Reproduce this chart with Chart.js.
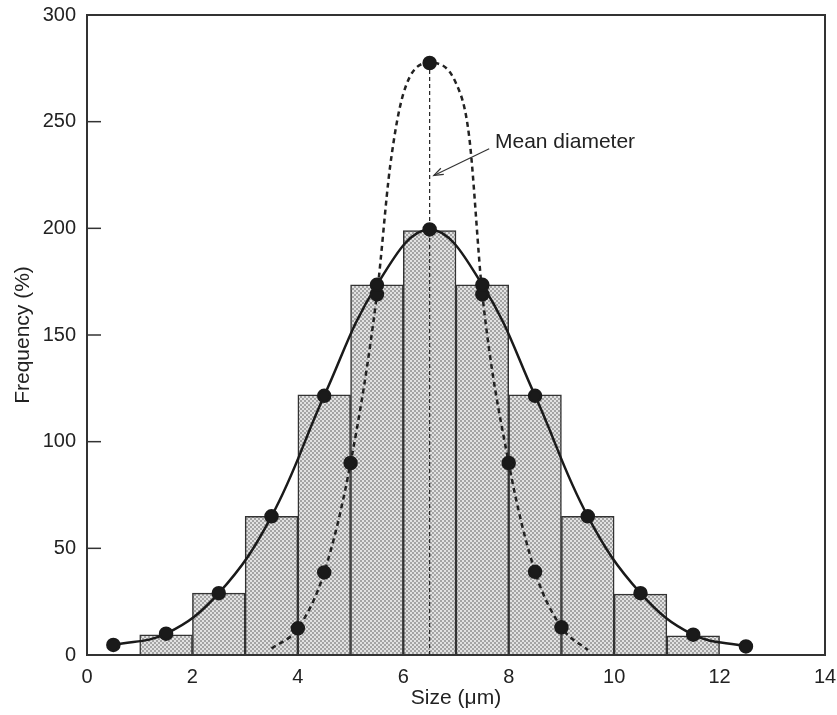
<!DOCTYPE html>
<html>
<head>
<meta charset="utf-8">
<script src="https://cdn.jsdelivr.net/npm/chart.js@4/dist/chart.umd.min.js"></script>
<style>
html,body{margin:0;padding:0;background:#fff;}
#wrap{width:837px;height:715px;position:relative;}
</style>
</head>
<body>
<div id="wrap"><canvas id="c" width="837" height="715"></canvas></div>
<script>
// ---- data ----
const binCenters = [1.5, 2.5, 3.5, 4.5, 5.5, 6.5, 7.5, 8.5, 9.5, 10.5, 11.5];
const binCounts  = [9.5, 29, 65, 122, 173.5, 199, 173.5, 122, 65, 28.5, 9];

const wideX = [0.5, 1.5, 2.5, 3.5, 4.5, 5.5, 6.5, 7.5, 8.5, 9.5, 10.5, 11.5, 12.5];
const wideY = [4.7, 10, 29, 65, 121.5, 173.5, 199.5, 173.5, 121.5, 65, 29, 9.5, 4];

// narrow distribution: marked points plus unmarked points
const narrowX = [3.5, 4, 4.5, 5, 5.5, 5.75, 6.0, 6.5, 7.0, 7.25, 7.5, 8, 8.5, 9, 9.5];
const narrowY = [3, 12.5, 38.7, 90, 169, 229, 263, 277.5, 268, 243, 169, 90, 39, 13, 2.3];
const narrowMarked = [false, true, true, true, true, false, false, true, false, false, true, true, true, true, false];

const meanX = [6.5, 6.5];
const meanY = [0, 277.5];

const xTicks = [0, 2, 4, 6, 8, 10, 12, 14];
const yTicks = [0, 50, 100, 150, 200, 250, 300];

const annotationText = "Mean diameter";

const FONT = '"Liberation Sans", Arial, sans-serif';

// ---- pattern fill for the histogram ----
function stipple() {
  const p = document.createElement('canvas');
  p.width = 4; p.height = 4;
  const g = p.getContext('2d');
  g.fillStyle = '#e2e2e2'; g.fillRect(0, 0, 4, 4);
  g.fillStyle = '#a4a4a4';
  g.fillRect(0, 0, 2, 2); g.fillRect(2, 2, 2, 2);
  return g.createPattern(p, 'repeat');
}
const ctx0 = document.getElementById('c').getContext('2d');

const pts = (xs, ys) => xs.map((x, i) => ({x: x, y: ys[i]}));

const frame = {
  id: 'frame',
  afterDraw(chart) {
    const {ctx, chartArea: a, scales} = chart;
    ctx.save();
    ctx.strokeStyle = '#333';
    ctx.lineWidth = 2;
    ctx.strokeRect(a.left, a.top, a.right - a.left, a.bottom - a.top);
    ctx.lineWidth = 1.5;
    yTicks.forEach(v => {
      const y = scales.y.getPixelForValue(v);
      ctx.beginPath();
      ctx.moveTo(a.left, y);
      ctx.lineTo(a.left + 14, y);
      ctx.stroke();
    });
    const tx = scales.x.getPixelForValue(7.74);
    const ty = scales.y.getPixelForValue(240.5);
    ctx.fillStyle = '#222';
    ctx.font = '21px ' + FONT;
    ctx.textBaseline = 'middle';
    ctx.textAlign = 'left';
    ctx.fillText(annotationText, tx, ty);
    const x1 = scales.x.getPixelForValue(7.63), y1 = scales.y.getPixelForValue(237.3);
    const x2 = scales.x.getPixelForValue(6.58), y2 = scales.y.getPixelForValue(224.8);
    ctx.strokeStyle = '#333';
    ctx.lineWidth = 1.2;
    ctx.beginPath(); ctx.moveTo(x1, y1); ctx.lineTo(x2, y2); ctx.stroke();
    const ang = Math.atan2(y2 - y1, x2 - x1);
    const L = 10, W = 0.35;
    ctx.beginPath();
    ctx.moveTo(x2 - L * Math.cos(ang - W), y2 - L * Math.sin(ang - W));
    ctx.lineTo(x2, y2);
    ctx.lineTo(x2 - L * Math.cos(ang + W), y2 - L * Math.sin(ang + W));
    ctx.stroke();
    ctx.restore();
  }
};

new Chart(ctx0, {
  data: {
    datasets: [
      {
        type: 'line',
        label: 'mean',
        data: pts(meanX, meanY),
        borderColor: '#222',
        borderWidth: 1.2,
        borderDash: [4, 3],
        pointRadius: 0,
        order: 3
      },
      {
        type: 'line',
        label: 'narrow',
        data: pts(narrowX, narrowY),
        borderColor: '#222',
        borderWidth: 2.5,
        borderDash: [5, 4],
        cubicInterpolationMode: 'monotone',
        pointRadius: narrowMarked.map(m => m ? 6 : 0),
        pointBackgroundColor: '#1a1a1a',
        pointBorderColor: '#1a1a1a',
        order: 2
      },
      {
        type: 'line',
        label: 'wide',
        data: pts(wideX, wideY),
        borderColor: '#1a1a1a',
        borderWidth: 2.5,
        tension: 0.4,
        pointRadius: 6,
        pointBackgroundColor: '#1a1a1a',
        pointBorderColor: '#1a1a1a',
        order: 1
      },
      {
        type: 'bar',
        label: 'hist',
        data: pts(binCenters, binCounts),
        backgroundColor: stipple(),
        borderColor: '#333',
        borderWidth: 1.5,
        barPercentage: 1,
        categoryPercentage: 1,
        order: 4
      }
    ]
  },
  options: {
    responsive: false,
    animation: false,
    layout: {padding: {top: 15, right: 12, left: 0, bottom: 0}},
    plugins: {legend: {display: false}, tooltip: {enabled: false}},
    scales: {
      x: {
        type: 'linear',
        offset: false,
        min: 0, max: 14,
        afterBuildTicks: s => { s.ticks = xTicks.map(v => ({value: v})); },
        afterFit: s => { s.height = 60; s.paddingLeft = 0; s.paddingRight = 0; },
        grid: {display: false, drawTicks: false, offset: false},
        border: {display: false},
        ticks: {color: '#222', padding: 10, font: {size: 20, family: FONT}},
        title: {display: true, text: 'Size (μm)', color: '#222', padding: {top: 3}, font: {size: 21, family: FONT}}
      },
      y: {
        min: 0, max: 300,
        afterBuildTicks: s => { s.ticks = yTicks.map(v => ({value: v})); },
        afterFit: s => { s.width = 87; s.paddingTop = 0; s.paddingBottom = 0; },
        grid: {display: false, drawTicks: false},
        border: {display: false},
        ticks: {color: '#222', padding: 11, font: {size: 20, family: FONT}},
        title: {display: true, text: 'Frequency (%)', color: '#222', padding: {bottom: 0, top: 11}, font: {size: 21, family: FONT}}
      }
    }
  },
  plugins: [frame]
});
</script>
</body>
</html>
